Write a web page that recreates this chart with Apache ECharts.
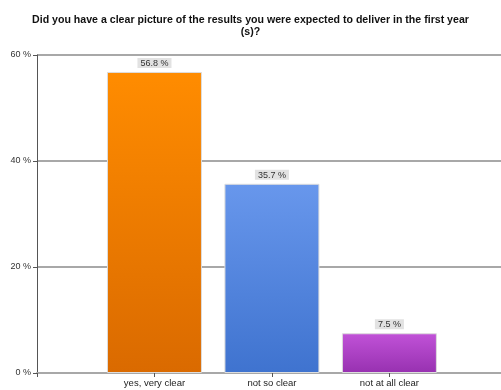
<!DOCTYPE html>
<html>
<head>
<meta charset="utf-8">
<script src="https://cdn.jsdelivr.net/npm/echarts@6/dist/echarts.min.js"></script>
<style>html,body{margin:0;padding:0;background:#fff}#c{width:501px;height:390px}</style>
</head>
<body>
<div id="c"></div>
<script>
var categories = ['yes, very clear', 'not so clear', 'not at all clear'];
var values = [56.8, 35.7, 7.5];
var yTicks = [0, 20, 40, 60];
var barColors = [['#ff8c00', '#da6a00'], ['#6897ec', '#3f73cf'], ['#c152d8', '#9731b0']];

var chart = echarts.init(document.getElementById('c'), null, {renderer: 'canvas'});
var data = values.map(function (v, i) {
  return {
    value: [i + 1, v],
    itemStyle: {
      color: new echarts.graphic.LinearGradient(0, 0, 0, 1, [
        {offset: 0, color: barColors[i][0]},
        {offset: 1, color: barColors[i][1]}
      ])
    }
  };
});
chart.setOption({
  animation: false,
  textStyle: {fontFamily: 'Liberation Sans, Arial, sans-serif'},
  title: {
    text: 'Did you have a clear picture of the results you were expected to deliver in the first year\n(s)?',
    left: 'center',
    top: 9,
    textStyle: {fontSize: 10.6, fontWeight: 'bold', color: '#111', lineHeight: 12, fontFamily: 'Liberation Sans, Arial, sans-serif'}
  },
  grid: {left: 37, right: 0, top: 55, bottom: 17, containLabel: false},
  xAxis: {
    type: 'value',
    min: 0,
    max: 3.95,
    interval: 1,
    splitLine: {show: false},
    axisLine: {show: true, lineStyle: {color: '#a8a8a8', width: 2}},
    axisTick: {show: true, length: 4, lineStyle: {color: '#555'}},
    axisLabel: {
      color: '#222', fontSize: 9.5, margin: 5, showMinLabel: true, showMaxLabel: false,
      formatter: function (v) { var i = Math.round(v) - 1; return (i >= 0 && i < categories.length) ? categories[i] : ''; }
    }
  },
  yAxis: {
    type: 'value',
    min: yTicks[0],
    max: yTicks[yTicks.length - 1],
    interval: 20,
    axisLine: {show: true, lineStyle: {color: '#555', width: 1}},
    axisTick: {show: true, length: 4, lineStyle: {color: '#555'}},
    axisLabel: {formatter: '{value} %', color: '#333', fontSize: 9, margin: 6},
    splitLine: {show: true, lineStyle: {color: '#a8a8a8', width: 2}}
  },
  series: [{
    type: 'bar',
    data: data,
    barWidth: 95,
    itemStyle: {borderColor: '#dddddd', borderWidth: 1},
    label: {
      show: true,
      position: 'top',
      distance: 4,
      formatter: function (p) { return p.value[1] + ' %'; },
      fontSize: 9,
      color: '#333',
      backgroundColor: '#e2e2e2',
      padding: [1, 3, 0, 3]
    }
  }]
});
</script>
</body>
</html>
